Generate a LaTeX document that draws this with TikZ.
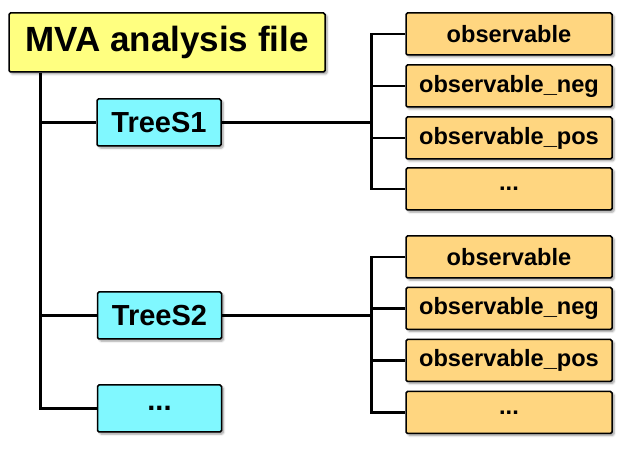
\documentclass[tikz,border=0pt]{standalone}
\usepackage{fontspec}
\setmainfont{Liberation Sans}
\usetikzlibrary{shadows.blur}
\definecolor{rootfill}{RGB}{255,255,128}
\definecolor{treefill}{RGB}{128,248,255}
\definecolor{obsfill}{RGB}{255,214,128}
\begin{document}
\begin{tikzpicture}[x=1pt,y=-1pt,
  box/.style={draw=black,line width=1.5pt,rounded corners=1.5pt,inner sep=0pt,
    blur shadow={shadow xshift=2pt,shadow yshift=-2pt,shadow blur steps=5,shadow opacity=40}},
  rootbox/.style={box,fill=rootfill,minimum width=316pt,minimum height=59pt,
    font=\fontsize{35}{40}\selectfont\bfseries},
  treebox/.style={box,fill=treefill,minimum width=124pt,minimum height=47pt,
    font=\fontsize{29}{33}\selectfont\bfseries},
  obsbox/.style={box,fill=obsfill,minimum width=206pt,minimum height=42pt,
    font=\fontsize{23.6}{27}\selectfont\bfseries},
  link/.style={line width=2.5pt}]
  \useasboundingbox (0,0) rectangle (622,449);
  \node[rootbox] (root) at (167,42.5) {MVA analysis file};
  \node[treebox] (trees1) at (159,122.5) {TreeS1};
  \node[treebox] (trees2) at (159.5,315.5) {TreeS2};
  \node[treebox] (treesmore) at (159.5,408.5) {...};
  \node[obsbox] (obs1) at (509,34) {observable};
  \node[obsbox] (obsneg1) at (509,86) {observable\_neg};
  \node[obsbox] (obspos1) at (509,138) {observable\_pos};
  \node[obsbox] (obsmore1) at (509,189) {...};
  \node[obsbox] (obs2) at (509,257) {observable};
  \node[obsbox] (obsneg2) at (509,308.5) {observable\_neg};
  \node[obsbox] (obspos2) at (509,360.5) {observable\_pos};
  \node[obsbox] (obsmore2) at (509,412.5) {...};
  % trunk
  \coordinate (trunk) at ([xshift=32pt]root.south west);
  \draw[link] (trunk) |- (treesmore.west);
  \draw[link] (trunk |- trees1.west) -- (trees1.west);
  \draw[link] (trunk |- trees2.west) -- (trees2.west);
  % branches
  \coordinate (fork1) at ([xshift=-34pt]obs1.west);
  \coordinate (fork2) at ([xshift=-34pt]obs2.west);
  \draw[link] (obs1.west) -| (fork1) |- (obsmore1.west);
  \draw[link] (fork1 |- obsneg1.west) -- (obsneg1.west);
  \draw[link] (fork1 |- obspos1.west) -- (obspos1.west);
  \draw[link] (trees1.east) -- (trees1.east -| fork1);
  \draw[link] (obs2.west) -| (fork2) |- (obsmore2.west);
  \draw[link] (fork2 |- obsneg2.west) -- (obsneg2.west);
  \draw[link] (fork2 |- obspos2.west) -- (obspos2.west);
  \draw[link] (trees2.east) -- (trees2.east -| fork2);
\end{tikzpicture}
\end{document}
